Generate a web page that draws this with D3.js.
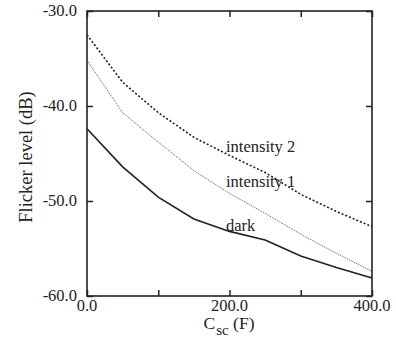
<!DOCTYPE html>
<html>
<head>
<meta charset="utf-8">
<script src="https://cdn.jsdelivr.net/npm/d3@7"></script>
<style>
  body { margin: 0; background: #fff; }
  text { font-family: "Liberation Serif", "Times New Roman", serif; fill: #222; }
</style>
</head>
<body>
<svg width="396" height="341"></svg>
<script>
// data
var csc = [0, 50, 100, 150, 200, 250, 300, 350, 400];
var dark = [-42.4, -46.4, -49.6, -51.9, -53.2, -54.1, -55.8, -57.0, -58.1];
var intensity1 = [-35.2, -40.7, -43.8, -46.8, -49.2, -51.3, -53.5, -55.5, -57.4];
var intensity2 = [-32.5, -37.5, -40.7, -43.3, -45.2, -47.0, -49.3, -51.1, -52.7];
var xTicks = [0, 100, 200, 300, 400];
var xLabels = [0, 200, 400];
var yTicks = [-60, -50, -40, -30];

var svg = d3.select("svg");
// plot box (window.top is read-only, so no "top" here)
var pLeft = 87, pRight = 372, pTop = 11, pBottom = 296;

var x = d3.scaleLinear().domain([0, 400]).range([pLeft, pRight]);
var y = d3.scaleLinear().domain([-60, -30]).range([pBottom, pTop]);

var line = d3.line()
	.x(function(d, i){ return x(csc[i]); })
	.y(function(d){ return y(d); });

// curves
svg.append("path").datum(intensity2)
	.attr("d", line)
	.style("fill", "none")
	.style("stroke", "#222")
	.style("stroke-width", 1.6)
	.style("stroke-dasharray", "2,2");

svg.append("path").datum(intensity1)
	.attr("d", line)
	.style("fill", "none")
	.style("stroke", "#555")
	.style("stroke-width", 1)
	.style("stroke-dasharray", "1,1");

svg.append("path").datum(dark)
	.attr("d", line)
	.style("fill", "none")
	.style("stroke", "#222")
	.style("stroke-width", 1.6);

// frame with inward ticks on all four sides
var fs = "16.5px";
var tickIn = 6;

svg.append("g").attr("transform", "translate(0," + pBottom + ")")
	.call(d3.axisTop(x).tickValues(xTicks).tickSize(tickIn).tickFormat(""));
svg.append("g").attr("transform", "translate(0," + pTop + ")")
	.call(d3.axisBottom(x).tickValues(xTicks).tickSize(tickIn).tickFormat(""));
svg.append("g").attr("transform", "translate(" + pLeft + ",0)")
	.call(d3.axisRight(y).tickValues(yTicks).tickSize(tickIn).tickFormat(""));
svg.append("g").attr("transform", "translate(" + pRight + ",0)")
	.call(d3.axisLeft(y).tickValues(yTicks).tickSize(tickIn).tickFormat(""));

svg.selectAll(".domain").remove();
svg.selectAll(".tick line").style("stroke", "#222").style("stroke-width", 1.5);

svg.append("rect")
	.attr("x", pLeft).attr("y", pTop)
	.attr("width", pRight - pLeft).attr("height", pBottom - pTop)
	.style("fill", "none")
	.style("stroke", "#222")
	.style("stroke-width", 1.6);

// tick labels
svg.selectAll(".xlab").data(xLabels).enter().append("text")
	.attr("x", function(d){ return x(d); })
	.attr("y", pBottom + 14.5)
	.attr("text-anchor", "middle")
	.style("font-size", fs)
	.text(function(d){ return d.toFixed(1); });

svg.selectAll(".ylab").data(yTicks).enter().append("text")
	.attr("x", pLeft - 10)
	.attr("y", function(d){ return y(d); })
	.attr("dy", "0.3em")
	.attr("text-anchor", "end")
	.style("font-size", fs)
	.text(function(d){ return d.toFixed(1); });

// axis titles
var xt = svg.append("text")
	.attr("x", 229).attr("y", 329)
	.attr("text-anchor", "middle")
	.style("font-size", "17.5px");
xt.append("tspan").text("C");
xt.append("tspan").attr("dy", 6).attr("dx", 1).style("font-size", "15px").text("sc");
xt.append("tspan").attr("dy", -6).text(" (F)");

svg.append("text")
	.attr("transform", "translate(31.5,157) rotate(-90)")
	.attr("text-anchor", "middle")
	.style("font-size", "18.5px")
	.text("Flicker level (dB)");

// curve labels
svg.append("text").attr("x", 226).attr("y", 152).style("font-size", fs).text("intensity 2");
svg.append("text").attr("x", 226).attr("y", 187).style("font-size", fs).text("intensity 1");
svg.append("text").attr("x", 226).attr("y", 231).style("font-size", fs).text("dark");
</script>
</body>
</html>
